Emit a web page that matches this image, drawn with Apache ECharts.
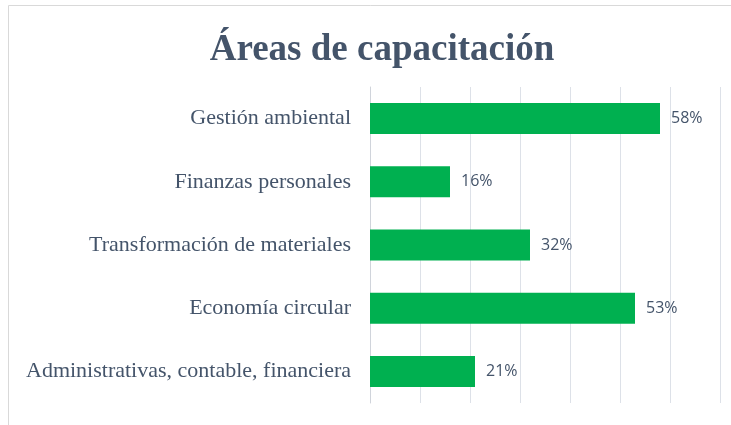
<!DOCTYPE html>
<html>
<head>
<meta charset="utf-8">
<script src="https://cdn.jsdelivr.net/npm/echarts@6/dist/echarts.min.js"></script>
<style>
    html, body { margin: 0; padding: 0; background: #fff; }
    #chart { width: 731px; height: 425px; }
</style>
</head>
<body>
<div id="chart"></div>
<script>
var categories = [
    'Gestión ambiental',
    'Finanzas personales',
    'Transformación de materiales',
    'Economía circular',
    'Administrativas, contable, financiera'
];
var values = [58, 16, 32, 53, 21];

var chartDom = document.getElementById('chart');
var myChart = echarts.init(chartDom);
var option;

option = {
    animation: false,
    title: {
        text: 'Áreas de capacitación',
        left: 377,
        textAlign: 'center',
        top: 27,
        textStyle: {
            fontFamily: 'Liberation Serif',
            fontSize: 37,
            fontWeight: 'bold',
            color: '#44546A'
        }
    },
    graphic: [
        {
            type: 'rect',
            shape: { x: 8.5, y: 5.5, width: 800, height: 500 },
            style: { fill: 'none', stroke: '#D9D9D9', lineWidth: 1 },
            silent: true
        }
    ],
    grid: {
        left: 370,
        right: 11,
        top: 87,
        bottom: 22
    },
    xAxis: {
        type: 'value',
        min: 0,
        max: 70,
        interval: 10,
        axisLabel: { show: false },
        axisLine: { show: false },
        axisTick: { show: false },
        splitLine: {
            lineStyle: { color: '#DDE1E8', width: 1 }
        }
    },
    yAxis: {
        type: 'category',
        inverse: true,
        data: categories,
        axisLine: {
            lineStyle: { color: '#D0D4DB' }
        },
        axisTick: {
            length: 6,
            lineStyle: { color: '#D0D4DB' }
        },
        axisLabel: {
            margin: 19,
            fontFamily: 'Liberation Serif',
            fontSize: 22,
            color: '#44546A'
        }
    },
    series: [
        {
            name: 'capacitación',
            type: 'bar',
            data: values,
            barWidth: '49%',
            itemStyle: { color: '#00B050' },
            label: {
                show: true,
                position: 'right',
                distance: 11,
                formatter: '{c}%',
                fontFamily: 'Open Sans',
                fontSize: 16,
                color: '#44546A'
            }
        }
    ]
};

option && myChart.setOption(option);
</script>
</body>
</html>
